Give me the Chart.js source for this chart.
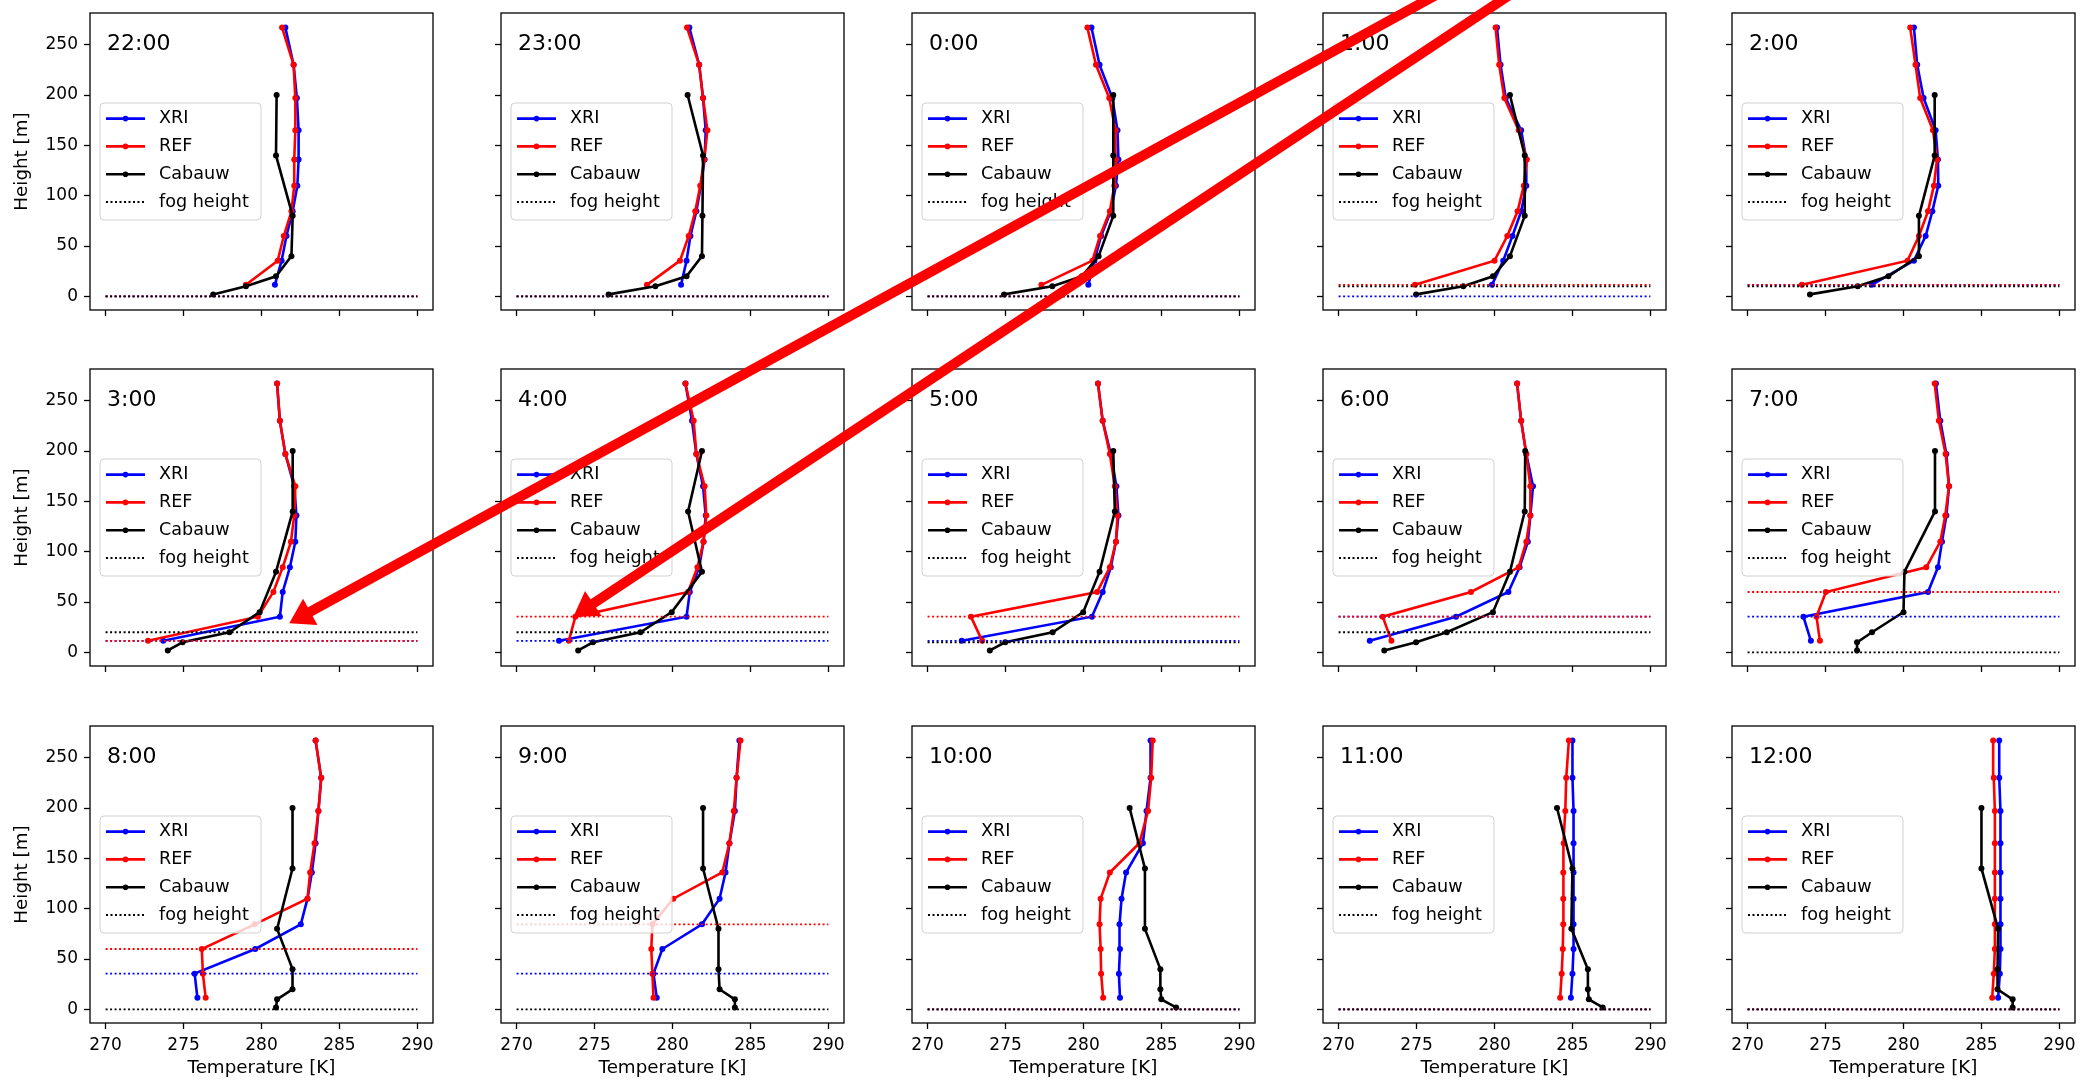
<!DOCTYPE html>
<html>
<head>
<meta charset="utf-8">
<script src="https://cdn.jsdelivr.net/npm/chart.js@4.4.1/dist/chart.umd.min.js"></script>
<style>
  body { margin: 0; background: #fff; width: 2087px; height: 1088px; overflow: hidden; position: relative; }
  canvas { position: absolute; }
</style>
</head>
<body>
<script>
// one panel per hour, profiles listed bottom -> top
const times = ['22:00', '23:00', '0:00', '1:00', '2:00', '3:00', '4:00', '5:00', '6:00', '7:00', '8:00', '9:00', '10:00', '11:00', '12:00'];
const modelHeights = [11.5, 35.5, 60, 84.5, 110, 136, 165, 197, 230, 267];
const cabauwHeights = [2, 10, 20, 40, 80, 140, 200];

const xriTemp = [
  [280.86, 281.29, 281.6, 282.0, 282.3, 282.38, 282.38, 282.27, 282.06, 281.53],
  [280.55, 280.9, 281.15, 281.53, 281.82, 282.06, 282.13, 281.96, 281.71, 281.08],
  [280.31, 280.7, 281.13, 281.75, 282.08, 282.24, 282.18, 281.85, 281.03, 280.51],
  [279.84, 280.56, 281.15, 281.71, 282.04, 282.04, 281.71, 280.72, 280.39, 280.16],
  [277.96, 280.67, 281.42, 281.85, 282.23, 282.21, 282.06, 281.29, 280.88, 280.67],
  [273.7, 281.18, 281.36, 281.82, 282.17, 282.24, 282.1, 281.53, 281.18, 281.0],
  [272.72, 280.9, 281.11, 281.71, 281.99, 282.13, 281.96, 281.53, 281.25, 280.83],
  [272.19, 280.54, 281.23, 281.75, 282.08, 282.24, 282.11, 281.75, 281.23, 280.93],
  [272.0, 277.53, 280.89, 281.61, 282.14, 282.3, 282.47, 282.04, 281.71, 281.45],
  [274.06, 273.58, 281.57, 282.21, 282.47, 282.75, 282.92, 282.75, 282.36, 282.08],
  [275.89, 275.71, 279.6, 282.52, 282.95, 283.23, 283.47, 283.65, 283.83, 283.47],
  [278.99, 278.78, 279.35, 281.89, 283.02, 283.4, 283.65, 284.0, 284.11, 284.29],
  [282.34, 282.27, 282.34, 282.31, 282.44, 282.73, 283.81, 284.04, 284.3, 284.3],
  [284.9, 285.0, 285.07, 285.07, 285.07, 285.07, 285.07, 285.07, 285.0, 285.0],
  [286.07, 286.18, 286.22, 286.22, 286.22, 286.22, 286.22, 286.22, 286.14, 286.14]
];

const refTemp = [
  [279.0, 281.04, 281.43, 281.92, 282.1, 282.1, 282.17, 282.17, 282.06, 281.32],
  [278.36, 280.48, 281.04, 281.46, 281.78, 282.03, 282.24, 281.96, 281.71, 280.93],
  [277.3, 280.57, 281.06, 281.69, 281.98, 282.08, 282.05, 281.65, 280.8, 280.25],
  [274.9, 280.0, 280.82, 281.48, 281.88, 282.07, 281.55, 280.63, 280.3, 280.07],
  [273.48, 280.26, 280.99, 281.57, 281.95, 282.15, 281.89, 281.07, 280.77, 280.43],
  [272.72, 279.77, 280.76, 281.36, 281.89, 282.1, 282.17, 281.53, 281.18, 281.0],
  [273.35, 273.77, 281.0, 281.6, 281.99, 282.17, 282.06, 281.53, 281.36, 280.83],
  [273.5, 272.78, 280.87, 281.69, 282.08, 282.18, 282.01, 281.69, 281.23, 280.93],
  [273.39, 272.83, 278.49, 281.55, 282.04, 282.3, 282.3, 282.04, 281.71, 281.45],
  [274.64, 274.42, 275.02, 281.46, 282.36, 282.68, 282.92, 282.7, 282.27, 282.0],
  [276.42, 276.24, 276.17, 279.56, 282.95, 283.12, 283.4, 283.65, 283.83, 283.47],
  [278.78, 278.71, 278.64, 278.71, 280.05, 283.19, 283.65, 283.93, 284.11, 284.36],
  [281.26, 281.13, 281.1, 281.03, 281.1, 281.69, 283.58, 284.14, 284.34, 284.44],
  [284.21, 284.31, 284.38, 284.41, 284.41, 284.41, 284.44, 284.54, 284.6, 284.77],
  [285.69, 285.79, 285.86, 285.86, 285.86, 285.86, 285.86, 285.86, 285.79, 285.75]
];

const cabauwTemp = [
  [276.9, 279.0, 280.93, 281.92, 282.0, 280.93, 280.97],
  [275.9, 278.9, 280.9, 281.89, 281.92, 281.96, 280.97],
  [274.9, 278.0, 279.9, 280.97, 281.91, 281.91, 281.91],
  [274.97, 278.0, 279.9, 280.99, 281.94, 281.94, 280.99],
  [274.0, 277.06, 279.03, 280.99, 280.99, 282.0, 282.0],
  [273.99, 274.94, 277.94, 279.88, 280.93, 282.0, 282.0],
  [273.95, 274.9, 277.94, 279.95, 281.89, 281.0, 281.89],
  [273.99, 274.98, 278.02, 279.98, 281.03, 282.01, 281.91],
  [272.93, 274.97, 276.94, 279.9, 280.99, 281.94, 281.97],
  [277.02, 277.02, 277.98, 280.0, 280.06, 282.02, 282.02],
  [280.93, 281.0, 281.99, 281.99, 281.0, 281.99, 281.99],
  [284.0, 284.0, 283.02, 282.95, 282.95, 281.96, 281.96],
  [285.94, 284.99, 284.93, 284.93, 283.94, 283.94, 282.96],
  [286.94, 286.05, 285.99, 285.99, 284.93, 285.0, 284.01],
  [287.0, 287.0, 286.03, 286.03, 286.07, 285.0, 285.0]
];

const fogXRI    = [0, 0, 0, 0, 11.5, 11.5, 11.5, 11.5, 35.5, 35.5, 35.5, 35.5, 0, 0, 0];
const fogREF    = [0, 0, 0, 11.5, 11.5, 11.5, 35.5, 35.5, 35.5, 60, 60, 84.5, 0, 0, 0];
const fogCabauw = [0, 0, 0, 10, 10, 20, 20, 10, 20, 0, 0, 0, 0, 0, 0];
const fogRange = [270, 290];

const xTicks = [270, 275, 280, 285, 290];
const yTicks = [0, 50, 100, 150, 200, 250];

// annotation arrows: tip (panel, T, h) and a point on the shaft (panel, T, h)
const arrowTips   = [['3:00', 281.78, 28.9], ['4:00', 273.64, 35.5]];
const arrowTails  = [['1:00', 275.67, 294.4], ['1:00', 280.48, 294.4]];

Chart.defaults.font.family = "'DejaVu Sans', sans-serif";
Chart.defaults.color = '#000';

const FONT = { size: 17 };
const TITLE_FONT = { size: 18.3 };
const BLUE = '#0000ff', RED = '#ff0000', BLACK = '#000000';

const panelFrame = {
  id: 'panelFrame',
  afterDraw(chart) {
    const { ctx, chartArea: a } = chart;
    const label = chart.options.panelLabel;
    ctx.save();
    ctx.strokeStyle = '#000';
    ctx.lineWidth = 1.3;
    ctx.strokeRect(a.left, a.top, a.right - a.left, a.bottom - a.top);

    ctx.fillStyle = '#000';
    ctx.font = "22px 'DejaVu Sans'";
    ctx.textBaseline = 'middle';
    ctx.textAlign = 'left';
    ctx.fillText(label, a.left + 17, a.top + 31);

    // legend box
    const lx = a.left + 10, ly = a.top + 90, lw = 161, lh = 117;
    ctx.beginPath();
    ctx.roundRect(lx, ly, lw, lh, 4);
    ctx.fillStyle = 'rgba(255,255,255,0.8)';
    ctx.fill();
    ctx.strokeStyle = 'rgba(204,204,204,0.9)';
    ctx.lineWidth = 1;
    ctx.stroke();

    const items = [['XRI', BLUE, false], ['REF', RED, false], ['Cabauw', BLACK, false], ['fog height', BLACK, true]];
    ctx.font = "17.6px 'DejaVu Sans'";
    items.forEach(([txt, col, dotted], k) => {
      const y = ly + 15.6 + k * 27.8;
      ctx.strokeStyle = col;
      ctx.lineWidth = dotted ? 1.9 : 2.6;
      ctx.setLineDash(dotted ? [2, 2.5] : []);
      ctx.beginPath();
      ctx.moveTo(lx + 6, y);
      ctx.lineTo(lx + 45, y);
      ctx.stroke();
      ctx.setLineDash([]);
      if (!dotted) {
        ctx.fillStyle = col;
        ctx.beginPath();
        ctx.arc(lx + 25.5, y, 2.8, 0, Math.PI * 2);
        ctx.fill();
      }
      ctx.fillStyle = '#000';
      ctx.fillText(txt, lx + 59, y);
    });
    ctx.restore();
  }
};

const canvasLeft = [0, 411, 822, 1233, 1642];
const canvasTop = [-7, 349, 706];
const charts = {};
const offsets = {};

times.forEach((t, i) => {
  const col = i % 5, row = Math.floor(i / 5);
  const cv = document.createElement('canvas');
  cv.width = 443; cv.height = 377;
  cv.style.left = canvasLeft[col] + 'px';
  cv.style.top = canvasTop[row] + 'px';
  document.body.appendChild(cv);

  const profile = (temps, heights) => temps.map((v, k) => ({ x: v, y: heights[k] }));
  const fog = h => fogRange.map(x => ({ x: x, y: h }));
  const lineSet = (label, data, color, order) => ({
    label, data, order,
    borderColor: color, backgroundColor: color,
    pointBackgroundColor: color, pointBorderWidth: 0,
    borderWidth: 2.6, pointRadius: 3, tension: 0
  });
  const fogSet = (data, color, order) => ({
    label: 'fog height', data, order,
    borderColor: color, borderWidth: 1.9, borderDash: [2, 2.5],
    pointRadius: 0, fill: false
  });

  const chart = new Chart(cv, {
    type: 'line',
    data: {
      datasets: [
        lineSet('XRI', profile(xriTemp[i], modelHeights), BLUE, 5),
        lineSet('REF', profile(refTemp[i], modelHeights), RED, 4),
        lineSet('Cabauw', profile(cabauwTemp[i], cabauwHeights), BLACK, 3),
        fogSet(fog(fogXRI[i]), BLUE, 2),
        fogSet(fog(fogREF[i]), RED, 1),
        fogSet(fog(fogCabauw[i]), BLACK, 0)
      ]
    },
    options: {
      panelLabel: t,
      responsive: false,
      animation: false,
      devicePixelRatio: 1,
      layout: { padding: { top: 20, left: 0, right: 10, bottom: 0 } },
      plugins: { legend: { display: false }, tooltip: { enabled: false } },
      scales: {
        x: {
          type: 'linear', min: 269, max: 291,
          afterFit: s => { s.height = 60; },
          afterBuildTicks: s => { s.ticks = xTicks.map(v => ({ value: v })); },
          grid: { drawOnChartArea: false, drawTicks: true, tickLength: 6, color: '#000', tickWidth: 1.3 },
          border: { display: false },
          ticks: { font: FONT, color: '#000', padding: 6, maxRotation: 0, autoSkip: false,
                   callback: v => row === 2 ? String(v) : '' },
          title: { display: row === 2, text: 'Temperature [K]', font: TITLE_FONT, color: '#000', padding: { top: 0, bottom: 4 } }
        },
        y: {
          type: 'linear', min: -13.5, max: 281.5,
          afterFit: s => { s.width = 90; },
          afterBuildTicks: s => { s.ticks = yTicks.map(v => ({ value: v })); },
          grid: { drawOnChartArea: false, drawTicks: true, tickLength: 6, color: '#000', tickWidth: 1.3 },
          border: { display: false },
          ticks: { font: FONT, color: '#000', padding: 6, autoSkip: false,
                   callback: v => col === 0 ? String(v) : '' },
          title: { display: col === 0, text: 'Height [m]', font: TITLE_FONT, color: '#000', padding: { top: 11, bottom: 0 } }
        }
      }
    },
    plugins: [panelFrame]
  });
  charts[t] = chart;
  offsets[t] = [canvasLeft[col], canvasTop[row]];
});

// overlay with the two red arrows
const ov = document.createElement('canvas');
ov.width = 2087; ov.height = 1088;
ov.style.left = '0px'; ov.style.top = '0px';
document.body.appendChild(ov);
const octx = ov.getContext('2d');

const toPage = ([panel, T, h]) => {
  const c = charts[panel], [ox, oy] = offsets[panel];
  return { x: ox + c.scales.x.getPixelForValue(T), y: oy + c.scales.y.getPixelForValue(h) };
};

arrowTips.forEach((tipDef, k) => {
  const tip = toPage(tipDef), tail = toPage(arrowTails[k]);
  const dx = tail.x - tip.x, dy = tail.y - tip.y;
  const len = Math.hypot(dx, dy), ux = dx / len, uy = dy / len;
  const headLen = 24, headHalf = 15;
  const bx = tip.x + ux * headLen, by = tip.y + uy * headLen;
  octx.strokeStyle = RED; octx.fillStyle = RED;
  octx.lineWidth = 10; octx.lineCap = 'butt';
  octx.beginPath();
  octx.moveTo(bx - ux * 3, by - uy * 3);
  octx.lineTo(tail.x + ux * 200, tail.y + uy * 200);
  octx.stroke();
  octx.beginPath();
  octx.moveTo(tip.x, tip.y);
  octx.lineTo(bx - uy * headHalf, by + ux * headHalf);
  octx.lineTo(bx + uy * headHalf, by - ux * headHalf);
  octx.closePath();
  octx.fill();
});
</script>
</body>
</html>
